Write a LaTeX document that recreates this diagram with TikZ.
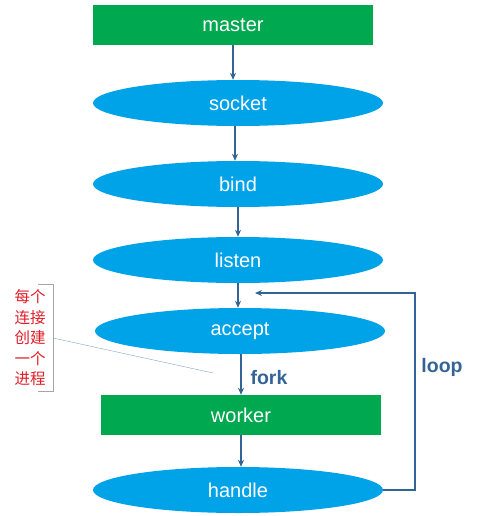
\documentclass[tikz,border=0pt]{standalone}
\usepackage{fontspec}
\setmainfont{Liberation Sans}
\newfontfamily\cjk{Noto Sans CJK SC}
\usetikzlibrary{shapes.geometric,arrows.meta}
\definecolor{boxgreen}{RGB}{0,168,80}
\definecolor{ellblue}{RGB}{0,162,232}
\definecolor{linkblue}{RGB}{52,100,150}
\definecolor{notered}{RGB}{225,30,40}

\begin{document}
\begin{tikzpicture}[x=1pt,y=-1pt,
  stepbox/.style={fill=boxgreen, minimum width=280, minimum height=40, text=white, font=\fontsize{20}{22}\selectfont},
  stepell/.style={ellipse, fill=ellblue, minimum width=290, minimum height=46, text=white, font=\fontsize{20}{22}\selectfont},
  link/.style={linkblue, line width=1.3, -{Stealth[length=7pt,width=6pt]}},
  tag/.style={text=linkblue, font=\bfseries\fontsize{19.5}{22}\selectfont}]
\useasboundingbox (0,0) rectangle (481,516);
\node[stepbox] (master) at (233,25) {master};
\node[stepell] (socket) at (238,103) {socket};
\node[stepell] (bind) at (238,184) {bind};
\node[stepell] (listen) at (238,260) {listen};
\node[stepell] (accept) at (240,331) {accept};
\node[stepbox] (worker) at (241,415) {worker};
\node[stepell] (handle) at (238,490) {handle};
\coordinate (loopend) at (255,293);
\draw[link] (master.south -| 233,0) -- (socket.north -| 233,0);
\draw[link] (socket.south -| 235,0) -- (bind.north -| 235,0);
\draw[link] (bind.south) -- (listen.north);
\draw[link] (listen.south) -- (accept.north -| 238,0);
\draw[link] (accept.south -| 241,0) -- (worker.north -| 241,0);
\draw[link] (worker.south -| 241,0) -- (handle.north -| 241,0);
\draw[link] (handle.east) -- (415,490) |- (loopend);
\node[tag] (fork) at (269,378) {fork};
\node[tag] (loop) at (442,367) {loop};
% note
\node[text=notered, align=center, font=\cjk\fontsize{15.5}{20.5}\selectfont] (note) at (30,338) {每个\\连接\\创建\\一个\\进程};
\draw[gray!70] (38,284) -- (53,284) -- (53,391) -- (38,391);
\coordinate (notetip) at (213,373);
\draw[linkblue!60] (53,338) -- (notetip);
\end{tikzpicture}
\end{document}
